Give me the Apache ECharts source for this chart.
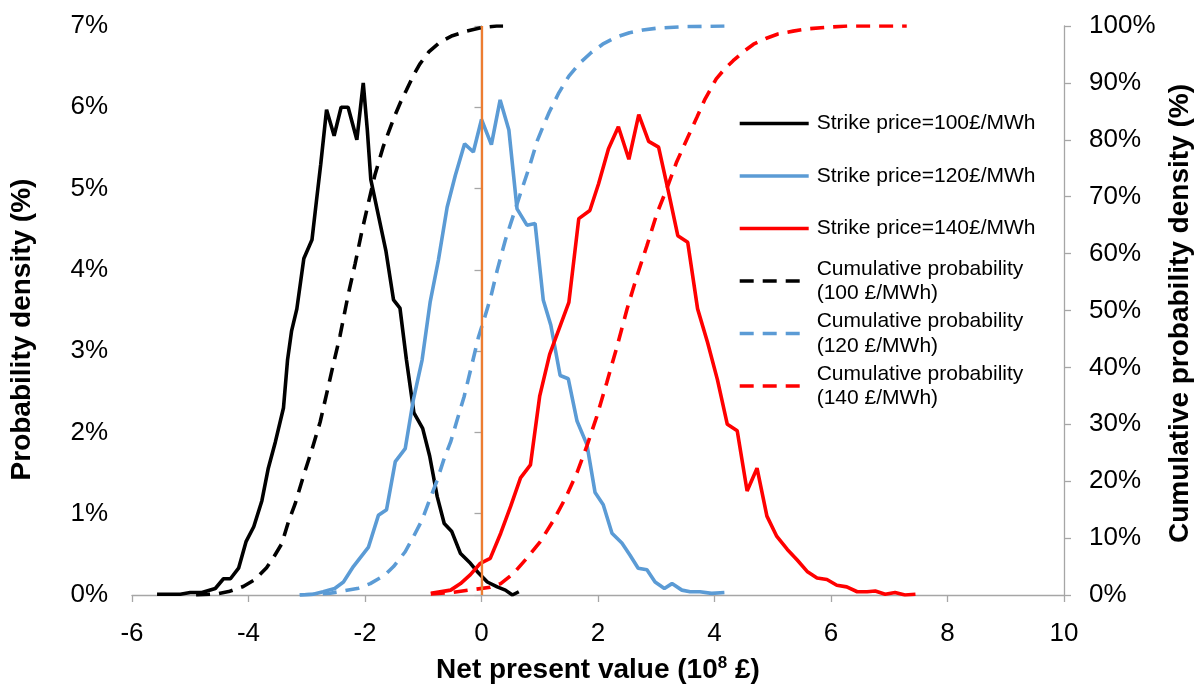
<!DOCTYPE html>
<html>
<head>
<meta charset="utf-8">
<script src="https://cdn.jsdelivr.net/npm/echarts@6/dist/echarts.min.js"></script>
<style>html,body{margin:0;padding:0;background:#fff}#c{width:1200px;height:684px}</style>
</head>
<body>
<div id="c"></div>
<script>
// ---- Data (NPV in 10^8 £, density in %, cumulative in %) ----
const seriesNames = ['Strike price=100£/MWh', 'Strike price=120£/MWh', 'Strike price=140£/MWh',
  'Cumulative probability\n(100 £/MWh)', 'Cumulative probability\n(120 £/MWh)', 'Cumulative probability\n(140 £/MWh)'];

const npv100 = [-5.57,-5.17,-5.0,-4.8,-4.57,-4.43,-4.31,-4.17,-4.04,-3.91,-3.77,-3.66,-3.54,-3.4,-3.33,-3.26,-3.17,-3.05,-2.91,-2.83,-2.76,-2.66,-2.53,-2.41,-2.29,-2.14,-2.03,-1.96,-1.9,-1.77,-1.64,-1.51,-1.4,-1.29,-1.16,-1.01,-0.89,-0.76,-0.64,-0.51,-0.36,-0.19,-0.05,0.1,0.27,0.41,0.53,0.64];
const dens100 = [0.01,0.01,0.03,0.03,0.08,0.2,0.2,0.33,0.66,0.84,1.16,1.56,1.88,2.3,2.89,3.25,3.52,4.14,4.37,4.87,5.3,5.97,5.65,6.0,6.0,5.6,6.3,5.72,5.11,4.67,4.23,3.63,3.53,2.9,2.24,2.05,1.71,1.21,0.88,0.78,0.51,0.39,0.27,0.16,0.1,0.06,0.0,0.04];

const npv120 = [-3.12,-2.89,-2.72,-2.52,-2.37,-2.2,-1.94,-1.77,-1.63,-1.48,-1.31,-1.17,-1.02,-0.88,-0.74,-0.59,-0.45,-0.29,-0.14,0.0,0.17,0.32,0.47,0.61,0.78,0.92,1.06,1.19,1.35,1.49,1.64,1.81,1.95,2.09,2.24,2.41,2.55,2.69,2.84,2.98,3.14,3.27,3.44,3.58,3.75,3.95,4.17];
const dens120 = [0.0,0.01,0.04,0.08,0.16,0.35,0.59,0.98,1.05,1.64,1.8,2.4,2.89,3.61,4.12,4.77,5.16,5.55,5.45,5.85,5.54,6.09,5.72,4.75,4.55,4.57,3.63,3.32,2.7,2.66,2.14,1.85,1.26,1.11,0.76,0.64,0.49,0.33,0.31,0.16,0.08,0.14,0.06,0.04,0.04,0.02,0.03];

const npv140 = [-0.87,-0.53,-0.36,-0.19,-0.02,0.15,0.33,0.5,0.67,0.84,1.0,1.17,1.33,1.5,1.67,1.86,2.01,2.18,2.35,2.53,2.7,2.87,3.04,3.21,3.37,3.54,3.71,3.88,4.05,4.22,4.39,4.56,4.73,4.9,5.07,5.25,5.42,5.59,5.76,5.93,6.1,6.27,6.45,6.62,6.76,6.93,7.1,7.27,7.45];
const dens140 = [0.02,0.06,0.14,0.25,0.39,0.45,0.76,1.09,1.44,1.6,2.45,2.96,3.27,3.6,4.63,4.73,5.06,5.49,5.76,5.36,5.91,5.58,5.51,4.96,4.42,4.34,3.52,3.11,2.65,2.1,2.02,1.28,1.56,0.97,0.72,0.56,0.43,0.29,0.21,0.19,0.12,0.1,0.04,0.04,0.05,0.01,0.03,0.0,0.01];

const cumX100 = [-4.9,-4.54,-4.34,-4.09,-3.89,-3.69,-3.57,-3.43,-3.31,-3.2,-3.06,-2.91,-2.77,-2.66,-2.54,-2.43,-2.29,-2.17,-2.06,-1.94,-1.83,-1.69,-1.59,-1.49,-1.39,-1.29,-1.17,-1.06,-0.9,-0.72,-0.5,-0.26,0.0,0.26,0.37];
const cum100  = [0,0.2,0.6,1.5,2.7,4.8,6.6,9,13,16,20.8,25.6,30.4,35.3,40.7,45.5,52.7,58.2,63.6,69,73.8,78.7,81.5,84.2,86.6,88.7,91.3,93.3,95.5,97.1,98.3,99.1,99.7,100,100];

const cumX120 = [-3.12,-2.6,-2.11,-1.91,-1.66,-1.51,-1.31,-1.17,-1.02,-0.88,-0.76,-0.65,-0.53,-0.42,-0.3,-0.16,-0.05,0.04,0.16,0.27,0.41,0.53,0.67,0.82,0.96,1.06,1.16,1.33,1.5,1.68,1.88,2.08,2.3,2.54,2.77,3.0,3.52,4.17];
const cum120  = [0,0.3,1.2,2,3.5,5,7.6,10.2,13.2,17,20.2,23.7,26.9,30.7,34.8,40.7,45.4,48.3,52.4,57.1,62.4,66.2,70.6,75.2,79.9,82.4,84.8,88.3,91.2,93.4,95.3,96.8,98,98.8,99.3,99.6,99.9,100];

const cumX140 = [-0.87,-0.53,-0.19,0.15,0.33,0.55,0.78,1.01,1.24,1.44,1.64,1.81,1.98,2.15,2.33,2.5,2.67,2.84,3.01,3.18,3.35,3.53,3.7,3.83,4.03,4.17,4.32,4.5,4.67,4.88,5.09,5.35,5.6,5.95,6.29,7.3];
const cum140  = [0.2,0.4,0.9,1.35,2,3.8,6.5,9.4,13.2,17,21.5,26.2,31.4,37.3,43.8,50.3,56.1,61.4,67,71.4,76.1,80.2,84,87,90.7,92.4,93.9,95.5,96.8,97.8,98.6,99.1,99.5,99.8,100,100];

const xTicks = [-6, 10, 2];        // min, max, interval
const yLeftTicks = [0, 7, 1];
const yRightTicks = [0, 100, 10];
const strikeLineX = 0;

// ---- Chart ----
const FONT = 'Arial, "Liberation Sans", sans-serif';
const zip = (xs, ys) => xs.map((x, i) => [x, ys[i]]);
const colors = ['#000000', '#5B9BD5', '#FF0000'];
const DASH = [14, 9];

const mkSeries = (name, data, color, dashed, yIdx) => ({
  name, type: 'line', data, yAxisIndex: yIdx,
  symbol: 'none', showSymbol: false, smooth: false,
  lineStyle: { color, width: 3.6, type: dashed ? DASH : 'solid' },
  itemStyle: { color },
  emphasis: { disabled: true }
});

const series = [
  mkSeries(seriesNames[0], zip(npv100, dens100), colors[0], false, 0),
  mkSeries(seriesNames[1], zip(npv120, dens120), colors[1], false, 0),
  mkSeries(seriesNames[2], zip(npv140, dens140), colors[2], false, 0),
  mkSeries(seriesNames[3], zip(cumX100, cum100), colors[0], true, 1),
  mkSeries(seriesNames[4], zip(cumX120, cum120), colors[1], true, 1),
  mkSeries(seriesNames[5], zip(cumX140, cum140), colors[2], true, 1)
];
series[5].markLine = {
  silent: true, symbol: ['none', 'none'], label: { show: false },
  lineStyle: { color: '#ED7D31', width: 2.3, type: 'solid' },
  emphasis: { disabled: true },
  data: [{ xAxis: strikeLineX }]
};

// legends: one component per row so the icon aligns with the first text line
const rowY = [123.5, 176, 228.5, 281, 333.5, 386];
const LH = 24.5;
const legends = seriesNames.map((name, i) => {
  const multi = name.indexOf('\n') >= 0;
  const h = multi ? LH * 3 : LH;
  return {
    show: true, left: 738, top: rowY[i] - h / 2, padding: 0,
    itemWidth: 69, itemHeight: 14, selectedMode: false,
    data: [name],
    itemStyle: { color: 'rgba(0,0,0,0)', borderWidth: 0, opacity: 0 },
    lineStyle: { width: 3.4 },
    textStyle: { fontSize: 21, color: '#000', fontFamily: FONT, lineHeight: LH,
      padding: multi ? [LH, 0, 0, 3] : [0, 0, 0, 3] }
  };
});

const axisLineStyle = { show: true, lineStyle: { color: '#A6A6A6', width: 1.3 } };
const tick = { show: true, length: 7, lineStyle: { color: '#A6A6A6', width: 1.3 } };
const labelStyle = { color: '#000', fontSize: 26, fontFamily: FONT };
const nameStyle = { color: '#000', fontSize: 28, fontWeight: 'bold', fontFamily: FONT };

const option = {
  animation: false,
  backgroundColor: '#fff',
  grid: { left: 132, right: 136, top: 26, bottom: 89, containLabel: false, outerBoundsMode: 'none' },
  legend: legends,
  xAxis: {
    type: 'value', min: xTicks[0], max: xTicks[1], interval: xTicks[2],
    axisLine: axisLineStyle, axisTick: tick, splitLine: { show: false },
    axisLabel: Object.assign({ margin: 26 }, labelStyle),
    name: 'Net present value (10{sup|8} £)', nameLocation: 'middle', nameGap: 60,
    nameTextStyle: Object.assign({ lineHeight: 30, rich: {
      sup: { fontSize: 17, fontWeight: 'bold', fontFamily: FONT, color: '#000', verticalAlign: 'top', lineHeight: 30 }
    } }, nameStyle)
  },
  yAxis: [
    {
      type: 'value', position: 'left', min: yLeftTicks[0], max: yLeftTicks[1], interval: yLeftTicks[2],
      axisLine: axisLineStyle, axisTick: tick, splitLine: { show: false },
      axisLabel: Object.assign({ margin: 24, formatter: '{value}%' }, labelStyle),
      name: 'Probability density (%)', nameLocation: 'middle', nameGap: 96, nameRotate: 90,
      nameTextStyle: Object.assign({ padding: [0, 38, 0, 0] }, nameStyle)
    },
    {
      type: 'value', position: 'right', min: yRightTicks[0], max: yRightTicks[1], interval: yRightTicks[2],
      axisLine: axisLineStyle, axisTick: tick, splitLine: { show: false },
      axisLabel: Object.assign({ margin: 25, formatter: '{value}%' }, labelStyle),
      name: 'Cumulative probability density (%)', nameLocation: 'middle', nameGap: 102, nameRotate: 90,
      nameTextStyle: Object.assign({ padding: [0, 6, 0, 0] }, nameStyle)
    }
  ],
  series
};

const chart = echarts.init(document.getElementById('c'), null, { renderer: 'canvas' });
chart.setOption(option);
</script>
</body>
</html>
